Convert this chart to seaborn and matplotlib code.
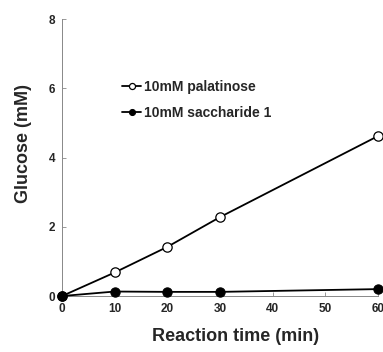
import pandas as pd
import matplotlib
matplotlib.use('Agg')
import matplotlib.pyplot as plt
import seaborn as sns

# dados
tempo = [0, 10, 20, 30, 60]
palatinose = [0, 0.68, 1.42, 2.28, 4.62]
sacarideo = [0, 0.13, 0.12, 0.12, 0.20]
nomes = ['10mM palatinose', '10mM saccharide 1']

sns.set_style('ticks')
plt.rcParams['font.family'] = ['Liberation Sans', 'DejaVu Sans']
plt.rcParams['font.weight'] = 'bold'

fig = plt.figure(figsize=(3.83, 3.52), dpi=100)
ax = fig.add_axes([0.162, 0.159, 0.825, 0.787])

sns.lineplot(x=tempo, y=palatinose, ax=ax, color='black', lw=1.3, marker='o',
             markersize=6.7, markerfacecolor='white', markeredgecolor='black',
             markeredgewidth=0.9, label=nomes[0], clip_on=False, zorder=3)
sns.lineplot(x=tempo, y=sacarideo, ax=ax, color='black', lw=1.3, marker='o',
             markersize=6.7, markerfacecolor='black', markeredgecolor='black',
             label=nomes[1], clip_on=False, zorder=3)

ax.set_xlim(0, 60)
ax.set_ylim(0, 8)
ax.set_xticks([0, 10, 20, 30, 40, 50, 60])
ax.set_yticks([0, 2, 4, 6, 8])
ax.tick_params(direction='in', length=3, width=0.6, labelsize=8.5, pad=5, color='#888888')
for lab in ax.get_xticklabels() + ax.get_yticklabels():
    lab.set_fontweight('bold')
sns.despine(ax=ax)
for s in ['left', 'bottom']:
    ax.spines[s].set_linewidth(0.7)
    ax.spines[s].set_color('#888888')

ax.set_xlabel('Reaction time (min)', fontsize=13, fontweight='bold')
ax.set_ylabel('Glucose (mM)', fontsize=13, fontweight='bold')
ax.xaxis.set_label_coords(0.548, -0.115)
ax.yaxis.set_label_coords(-0.095, 0.55)

ax.legend(loc='upper left', bbox_to_anchor=(0.15, 0.825), frameon=False,
          handlelength=1.4, handletextpad=0.2, labelspacing=0.85, markerscale=0.65,
          prop={'size': 10, 'weight': 'bold'})

fig.savefig('out.png', dpi=100)
